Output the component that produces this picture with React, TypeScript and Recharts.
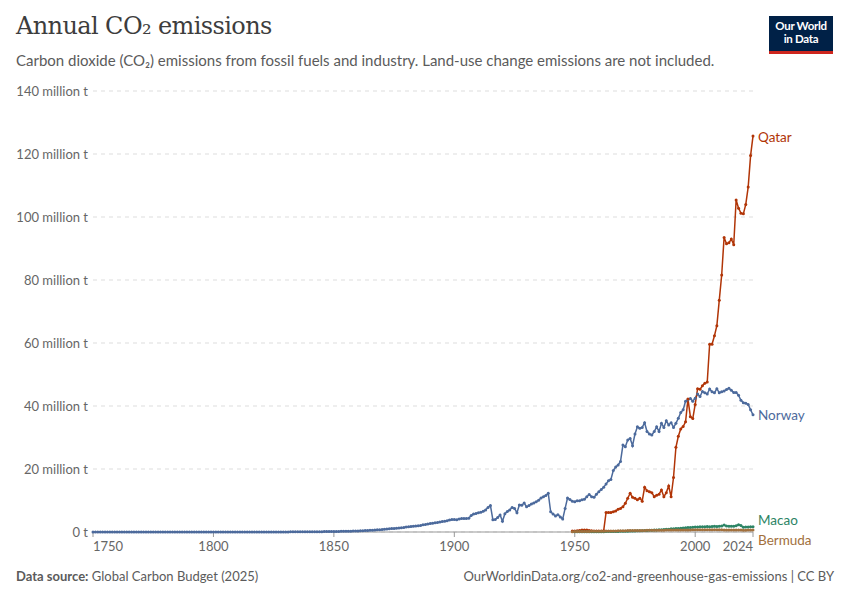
import { LineChart, Line, XAxis, YAxis, CartesianGrid } from 'recharts'

// ── Data (million tonnes CO2, one value per year) ────────────────────────────
const NORWAY_START = 1750
const norway = [
  // 1750–1799
  0.01, 0.01, 0.01, 0.01, 0.01, 0.01, 0.01, 0.01, 0.01, 0.01,
  0.01, 0.01, 0.01, 0.01, 0.01, 0.01, 0.01, 0.01, 0.01, 0.01,
  0.01, 0.01, 0.01, 0.01, 0.01, 0.01, 0.01, 0.01, 0.01, 0.01,
  0.01, 0.01, 0.01, 0.01, 0.01, 0.01, 0.01, 0.01, 0.01, 0.01,
  0.01, 0.01, 0.01, 0.01, 0.01, 0.01, 0.01, 0.01, 0.01, 0.01,
  // 1800–1829
  0.02, 0.02, 0.02, 0.02, 0.02, 0.02, 0.02, 0.02, 0.02, 0.02,
  0.02, 0.02, 0.02, 0.02, 0.02, 0.02, 0.02, 0.02, 0.02, 0.02,
  0.02, 0.02, 0.02, 0.02, 0.02, 0.02, 0.02, 0.02, 0.02, 0.02,
  // 1830–1899
  0.03, 0.03, 0.04, 0.04, 0.05, 0.05, 0.06, 0.06, 0.07, 0.07,
  0.08, 0.08, 0.09, 0.1, 0.1, 0.11, 0.12, 0.13, 0.13, 0.14,
  0.15, 0.17, 0.18, 0.2, 0.22, 0.24, 0.26, 0.27, 0.28, 0.3,
  0.32, 0.36, 0.4, 0.44, 0.48, 0.52, 0.58, 0.62, 0.68, 0.74,
  0.8, 0.88, 0.95, 1.05, 1.1, 1.15, 1.2, 1.25, 1.35, 1.45,
  1.6, 1.65, 1.75, 1.85, 1.9, 1.95, 2.05, 2.3, 2.4, 2.55,
  2.7, 2.8, 2.9, 3.0, 3.2, 3.3, 3.4, 3.6, 3.8, 4.0,
  // 1900–1949
  4.0, 3.9, 4.1, 4.3, 4.3, 4.3, 4.4, 5.2, 5.7, 5.9,
  6.1, 6.3, 6.6, 7.0, 7.8, 8.4, 3.9, 4.0, 4.6, 5.4,
  3.4, 5.8, 6.5, 7.0, 7.8, 7.5, 6.1, 8.6, 8.5, 9.2,
  8.0, 8.4, 8.9, 9.2, 9.6, 10.1, 10.8, 11.2, 11.6, 12.3,
  6.4, 5.7, 5.1, 5.5, 4.8, 4.1, 7.5, 10.8, 10.3, 9.8,
  // 1950–1999
  9.6, 9.9, 9.9, 10.2, 10.4, 11.2, 11.9, 11.2, 11.0, 12.0,
  12.8, 13.5, 14.2, 15.2, 16.3, 16.7, 19.5, 20.6, 21.3, 22.4,
  27.6, 27.1, 29.2, 29.7, 27.4, 31.1, 33.4, 32.9, 33.2, 34.7,
  31.9, 31.1, 30.8, 31.9, 33.4, 31.9, 34.5, 33.2, 35.3, 34.0,
  34.7, 33.2, 34.5, 36.1, 37.9, 38.8, 41.5, 42.0, 42.4, 41.5,
  // 2000–2024
  42.5, 43.8, 43.0, 44.6, 44.2, 43.8, 45.4, 44.5, 44.2, 45.5,
  44.2, 44.5, 44.8, 45.2, 45.6, 45.0, 44.3, 44.3, 43.4, 41.8,
  41.0, 40.9, 40.5, 38.8, 37.2,
]

const QATAR_START = 1949
const qatar = [
  0.3,
  0.3, 0.4, 0.5, 0.6, 0.6, 0.6, 0.5, 0.4, 0.3, 0.3,
  0.3, 0.3, 0.4, 6.2, 6.2, 6.2, 6.4, 6.7, 7.2, 7.5,
  8.0, 9.1, 10.7, 12.3, 11.0, 10.7, 10.2, 10.7, 9.8, 14.2,
  13.1, 12.8, 12.5, 11.2, 11.7, 12.0, 13.3, 11.2, 12.5, 14.6,
  11.2, 17.3, 26.9, 30.4, 32.7, 33.5, 35.0, 42.2, 36.6, 36.0,
  40.5, 45.5, 45.3, 46.4, 47.2, 47.6, 59.6, 59.6, 62.3, 65.5,
  73.6, 81.6, 93.5, 91.5, 91.8, 93.0, 91.2, 105.4, 102.8, 101.2,
  101.0, 104.0, 109.5, 119.5, 125.7,
]

const MACAO_START = 1950
const macao = [
  0.05, 0.05, 0.06, 0.06, 0.07, 0.07, 0.08, 0.08, 0.09, 0.09,
  0.1, 0.1, 0.11, 0.12, 0.13, 0.14, 0.15, 0.16, 0.18, 0.2,
  0.22, 0.24, 0.26, 0.28, 0.3, 0.33, 0.36, 0.4, 0.43, 0.47,
  0.5, 0.54, 0.58, 0.62, 0.66, 0.7, 0.75, 0.8, 0.85, 0.9,
  1.0, 1.05, 1.1, 1.15, 1.2, 1.3, 1.35, 1.4, 1.45, 1.5,
  1.6, 1.6, 1.65, 1.7, 1.7, 1.75, 1.7, 1.75, 1.8, 1.75,
  1.8, 1.9, 2.2, 1.9, 1.8, 1.8, 1.85, 2.0, 2.3, 2.1,
  1.5, 1.6, 1.6, 1.7, 1.7,
]

const BERMUDA_START = 1949
const bermuda = [
  0.1,
  0.12, 0.13, 0.14, 0.15, 0.16, 0.18, 0.19, 0.2, 0.21, 0.22,
  0.24, 0.25, 0.27, 0.28, 0.3, 0.31, 0.33, 0.35, 0.37, 0.39,
  0.4, 0.42, 0.44, 0.45, 0.44, 0.46, 0.47, 0.48, 0.5, 0.51,
  0.52, 0.53, 0.52, 0.54, 0.55, 0.56, 0.57, 0.58, 0.6, 0.62,
  0.6, 0.61, 0.6, 0.62, 0.63, 0.64, 0.65, 0.66, 0.67, 0.68,
  0.68, 0.7, 0.7, 0.72, 0.72, 0.73, 0.72, 0.72, 0.71, 0.7,
  0.7, 0.68, 0.67, 0.66, 0.65, 0.64, 0.64, 0.63, 0.63, 0.62,
  0.55, 0.58, 0.6, 0.6, 0.6,
]

const yTicks = [0, 20, 40, 60, 80, 100, 120, 140]
const xTicks = [1750, 1800, 1850, 1900, 1950, 2000, 2024]

// ── Helpers ───────────────────────────────────────────────────────────────────
const toRows = (start: number, values: number[]) =>
  values.map((v, i) => ({ year: start + i, value: v }))

const series = [
  { name: 'Norway',  color: '#4c6a9c', rows: toRows(NORWAY_START, norway),   dy: 1 },
  { name: 'Qatar',   color: '#b13507', rows: toRows(QATAR_START, qatar),     dy: 1 },
  { name: 'Macao',   color: '#2c8465', rows: toRows(MACAO_START, macao),     dy: -6 },
  { name: 'Bermuda', color: '#a2703d', rows: toRows(BERMUDA_START, bermuda), dy: 10 },
]

const FONT = 'Lato, "Noto Sans", sans-serif'

function YTick({ y, payload }: any) {
  const v = payload.value
  return (
    <text x={88} y={y} dy={4.5} textAnchor="end" fontSize={13} fill="#666" fontFamily={FONT}>
      {v === 0 ? '0 t' : `${v} million t`}
    </text>
  )
}

function XTick({ x, y, payload }: any) {
  const v = payload.value
  const anchor = v === 1750 ? 'start' : v === 2024 ? 'end' : 'middle'
  return (
    <text x={x} y={y} dy={12} textAnchor={anchor} fontSize={13} fill="#666" fontFamily={FONT}>
      {v}
    </text>
  )
}

function endLabel(name: string, color: string, last: number, dy: number) {
  return (p: any) => {
    if (p.index !== last) return null
    return (
      <text x={p.x + 5} y={p.y + dy} dy={4.5} fontSize={13.5} fill={color} fontFamily={FONT}>
        {name}
      </text>
    )
  }
}

// ── Component ─────────────────────────────────────────────────────────────────
export default function App() {
  return (
    <div style={{ position: 'absolute', left: 0, top: 0, width: 850, height: 600, background: '#fff', fontFamily: FONT }}>
      <div style={{
        position: 'absolute', left: 16, top: 12,
        fontFamily: '"DejaVu Serif", "Liberation Serif", serif',
        fontSize: 24, color: '#3d3d3d', letterSpacing: -0.6,
      }}>
        Annual CO₂ emissions
      </div>
      <div style={{ position: 'absolute', left: 16, top: 51, fontSize: 15, color: '#5b5b5b' }}>
        Carbon dioxide (CO₂) emissions from fossil fuels and industry. Land-use change emissions are not included.
      </div>

      {/* logo */}
      <div style={{
        position: 'absolute', left: 769, top: 16, width: 64, height: 32,
        background: '#002147', borderBottom: '3px solid #ce261e',
        color: '#fff', fontSize: 11.5, lineHeight: '13px', fontWeight: 700,
        textAlign: 'center', paddingTop: 3, boxSizing: 'content-box',
        letterSpacing: -0.3,
      }}>
        Our World<br />in Data
      </div>

      <div style={{ position: 'absolute', left: 0, top: 0 }}>
        <LineChart width={850} height={600} margin={{ top: 91, right: 97, bottom: 38, left: 0 }}>
          <CartesianGrid vertical={false} stroke="#dddddd" strokeDasharray="4 4" />
          <XAxis
            dataKey="year" type="number" domain={[1750, 2024]} ticks={xTicks}
            allowDuplicatedCategory={false}
            height={30} tickSize={5} tickMargin={2}
            axisLine={{ stroke: '#999' }} tickLine={{ stroke: '#999' }}
            tick={<XTick />}
          />
          <YAxis
            domain={[0, 140]} ticks={yTicks} width={93}
            axisLine={false} tickLine={false} tick={<YTick />}
          />
          {series.map(s => (
            <Line
              key={s.name}
              data={s.rows}
              dataKey="value"
              name={s.name}
              type="linear"
              stroke={s.color}
              strokeWidth={1.5}
              dot={{ r: 1.5, fill: s.color, stroke: 'none' }}
              activeDot={false}
              isAnimationActive={false}
              label={endLabel(s.name, s.color, s.rows.length - 1, s.dy)}
            />
          ))}
        </LineChart>
      </div>

      <div style={{ position: 'absolute', left: 16, top: 568, fontSize: 13, color: '#5b5b5b' }}>
        <b>Data source:</b> Global Carbon Budget (2025)
      </div>
      <div style={{ position: 'absolute', right: 16, top: 568, fontSize: 13, color: '#5b5b5b' }}>
        OurWorldinData.org/co2-and-greenhouse-gas-emissions | CC BY
      </div>
    </div>
  )
}
